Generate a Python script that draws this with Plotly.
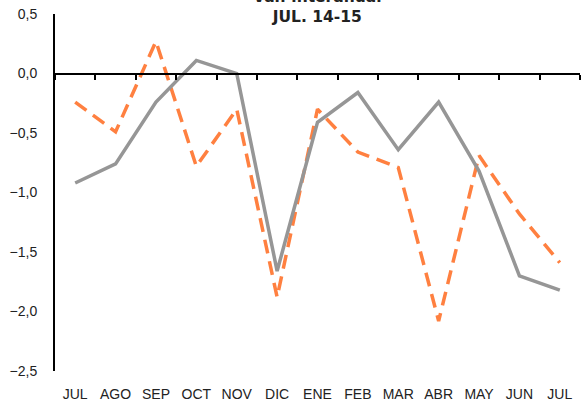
import plotly.graph_objects as go

months = ["JUL", "AGO", "SEP", "OCT", "NOV", "DIC", "ENE", "FEB", "MAR", "ABR", "MAY", "JUN", "JUL"]
serie_gris = [-0.92, -0.76, -0.24, 0.11, 0.0, -1.66, -0.41, -0.16, -0.64, -0.24, -0.82, -1.70, -1.82]
serie_naranja = [-0.24, -0.49, 0.27, -0.78, -0.30, -1.88, -0.30, -0.66, -0.79, -2.08, -0.69, -1.18, -1.59]
y_ticks = [0.5, 0.0, -0.5, -1.0, -1.5, -2.0, -2.5]
title_text = "<b>Var. interanual<br>JUL. 14-15</b>"

idx = list(range(len(months)))

fig = go.Figure()
fig.add_trace(go.Scatter(x=idx, y=serie_gris, mode="lines",
                         line=dict(color="#969696", width=3.5), xaxis="x2", showlegend=False))
fig.add_trace(go.Scatter(x=idx, y=serie_naranja, mode="lines",
                         line=dict(color="#FF8040", width=3.5, dash="14px,8px"), showlegend=False))

y_min, y_max = -2.5, 0.5
zero_pos = (0 - y_min) / (y_max - y_min)

fig.update_layout(
    width=584, height=406,
    margin=dict(l=55, r=4, t=14, b=35),
    paper_bgcolor="white", plot_bgcolor="white",
    separators=", ",
    font=dict(family="Liberation Sans, Arial, sans-serif", size=14, color="#222"),
    xaxis=dict(range=[-0.5, len(months) - 0.5], tickvals=idx, ticktext=months,
               showline=False, showgrid=False, zeroline=False, ticks="",
               automargin=False, ticklabelstandoff=13,
               tickfont=dict(size=14, color="#222")),
    xaxis2=dict(range=[-0.5, len(months) - 0.5], overlaying="x", anchor="free",
                position=zero_pos, side="bottom",
                tickvals=[i - 0.5 for i in range(len(months) + 1)],
                showticklabels=False, ticks="outside", ticklen=5, tickwidth=2,
                tickcolor="black", showline=True, linecolor="black", linewidth=2,
                showgrid=False, zeroline=False, automargin=False),
    yaxis=dict(range=[y_min, y_max], tickvals=y_ticks, tickformat=".1f",
               showline=True, linecolor="black", linewidth=2, showgrid=False,
               zeroline=False, ticks="", automargin=False, ticklabelstandoff=13,
               tickfont=dict(size=14, color="#222")),
)
fig.add_annotation(text=title_text, xref="paper", yref="paper", x=0.5, y=1.0,
                   yshift=-14, yanchor="bottom", showarrow=False,
                   font=dict(size=15.5, color="#222", family="DejaVu Sans, Verdana, sans-serif"))

fig.write_html("out.html", config={"displayModeBar": False},
               post_script="document.body.style.margin='0';")
